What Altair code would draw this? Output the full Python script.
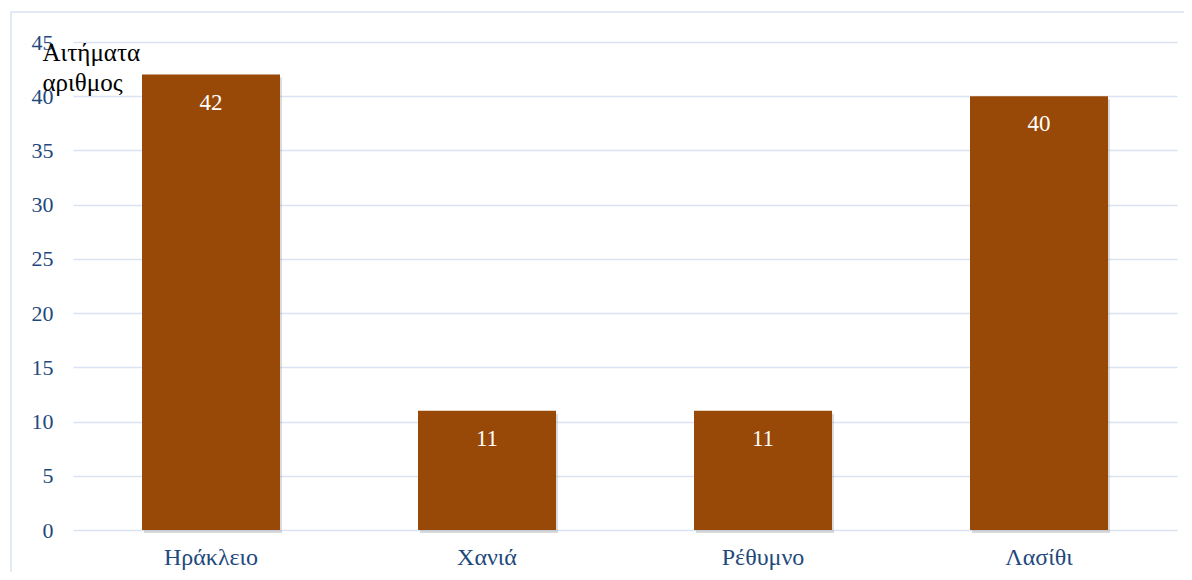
import altair as alt
import pandas as pd

regions = ["Ηράκλειο", "Χανιά", "Ρέθυμνο", "Λασίθι"]
requests = [42, 11, 11, 40]
y_title = ["Αιτήματα", "αριθμος"]

df = pd.DataFrame({"region": regions, "value": requests})

FONT = "Liberation Serif"
BAR = "#984807"
TXT = "#1F497D"
GRID = "#D9E3F1"

x_enc = alt.X("region:N", sort=regions,
              scale=alt.Scale(paddingInner=0.5, paddingOuter=0.25),
              axis=alt.Axis(title=None, labelAngle=0, labelFont=FONT, labelFontSize=24,
                            labelColor=TXT, labelPadding=15, ticks=False, domain=False, grid=False))
y_enc = alt.Y("value:Q", scale=alt.Scale(domain=[0, 45], nice=False),
              axis=alt.Axis(values=list(range(0, 50, 5)), title=y_title, titleAngle=0,
                            titleAlign="left", titleBaseline="alphabetic", titleX=-31, titleY=18,
                            titleFont=FONT, titleFontSize=25, titleFontWeight="normal",
                            titleColor="black", titleLineHeight=30,
                            labelFont=FONT, labelFontSize=22, labelColor=TXT, labelPadding=20,
                            ticks=False, domain=False, gridColor=GRID, gridWidth=1.5))

base = alt.Chart(df)

frame = alt.Chart(pd.DataFrame({"a": [0]})).mark_rect(
    filled=False, stroke=GRID, strokeWidth=1.5
).encode(x=alt.value(-62), x2=alt.value(1160), y=alt.value(-30), y2=alt.value(560))

shadow = base.mark_bar(color="#999999", opacity=0.35, xOffset=2, yOffset=3).encode(x=x_enc, y=y_enc)
bars = base.mark_bar(color=BAR).encode(x=x_enc, y=y_enc)
labels = base.mark_text(font=FONT, fontSize=23, color="white", baseline="middle", dy=28).encode(
    x=x_enc, y=y_enc, text="value:Q")

chart = alt.layer(frame, shadow, bars, labels).properties(
    width=1104, height=488,
    autosize=alt.AutoSizeParams(type="none"),
    padding={"left": 65, "top": 34, "right": 7, "bottom": 42},
).configure_view(stroke=None)

chart.save("out.html", embed_options={"renderer": "svg", "actions": False})
